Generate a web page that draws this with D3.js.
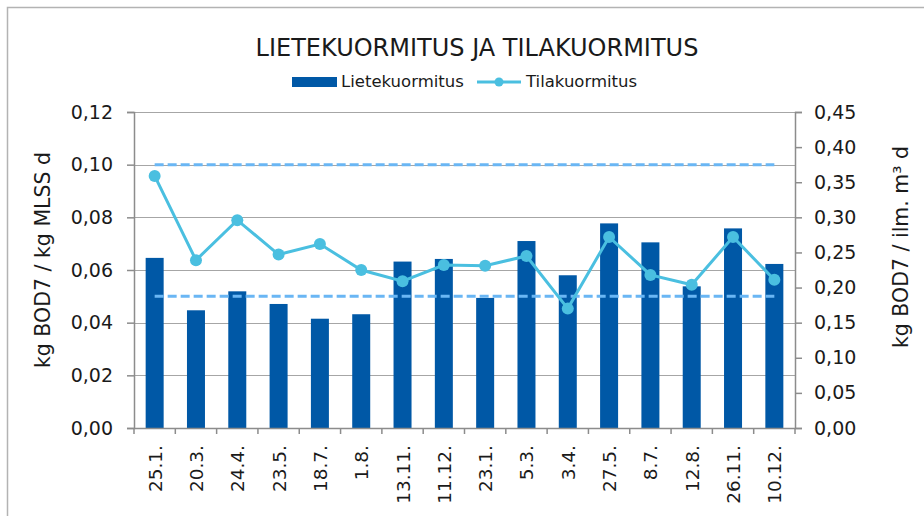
<!DOCTYPE html>
<html>
<head>
<meta charset="utf-8">
<script src="https://cdn.jsdelivr.net/npm/d3@7"></script>
<style>
  body { margin: 0; background: #fff; }
  text { font-family: "DejaVu Sans", sans-serif; fill: #1a1a1a; }
</style>
</head>
<body>
<svg id="chart"></svg>
<script>
// DATA
const dates = ["25.1.", "20.3.", "24.4.", "23.5.", "18.7.", "1.8.", "13.11.", "11.12.",
               "23.1.", "5.3.", "3.4.", "27.5.", "8.7.", "12.8.", "26.11.", "10.12."];
const lietekuormitus = [0.0646, 0.0447, 0.0519, 0.0471, 0.0415, 0.0432, 0.0632, 0.0642,
                        0.0494, 0.0710, 0.0580, 0.0777, 0.0705, 0.0538, 0.0758, 0.0623];
const tilakuormitus = [0.359, 0.239, 0.296, 0.247, 0.262, 0.225, 0.209, 0.232,
                       0.231, 0.245, 0.170, 0.272, 0.218, 0.204, 0.272, 0.211];
const rajaYla = 0.10;   // dashed upper limit, left axis
const rajaAla = 0.05;   // dashed lower limit, left axis
const leftTicks = [0, 0.02, 0.04, 0.06, 0.08, 0.10, 0.12];
const rightTicks = [0, 0.05, 0.10, 0.15, 0.20, 0.25, 0.30, 0.35, 0.40, 0.45];

const width = 924, height = 516;
const margin = { top: 112, right: 129, bottom: 88, left: 134 };

const barColor = "#0058a6";
const lineColor = "#4abfe0";
const dashColor = "#6ab6f4";
const gridColor = "#a6a6a6";

const fmt = d => d3.format(".2f")(d).replace(".", ",");

const svg = d3.select("#chart")
    .attr("width", width)
    .attr("height", height);

// frame
svg.append("rect")
    .attr("x", 7.5).attr("y", 7.5)
    .attr("width", width).attr("height", height)
    .attr("fill", "none").attr("stroke", "#b3b3b3").attr("stroke-width", 1.5);

// SCALES
const xScale = d3.scaleBand()
    .domain(dates)
    .range([margin.left, width - margin.right]);

const yLeft = d3.scaleLinear()
    .domain([0, 0.12])
    .range([height - margin.bottom, margin.top]);

const yRight = d3.scaleLinear()
    .domain([0, 0.45])
    .range([height - margin.bottom, margin.top]);

// GRIDLINES
svg.append("g")
    .selectAll("line")
    .data(leftTicks)
    .join("line")
    .attr("x1", margin.left).attr("x2", width - margin.right)
    .attr("y1", d => Math.round(yLeft(d)) + 0.5)
    .attr("y2", d => Math.round(yLeft(d)) + 0.5)
    .attr("stroke", gridColor).attr("stroke-width", 1.2);

// BARS
const barW = 18;
svg.append("g")
    .selectAll("rect")
    .data(lietekuormitus)
    .join("rect")
    .attr("x", (d, i) => xScale(dates[i]) + xScale.bandwidth() / 2 - barW / 2)
    .attr("y", d => yLeft(d))
    .attr("width", barW)
    .attr("height", d => yLeft(0) - yLeft(d))
    .attr("fill", barColor);

// DASHED LIMITS
const first = xScale(dates[0]) + xScale.bandwidth() / 2;
const last = xScale(dates[dates.length - 1]) + xScale.bandwidth() / 2;
svg.append("g")
    .selectAll("line")
    .data([rajaYla, rajaAla])
    .join("line")
    .attr("x1", first).attr("x2", last)
    .attr("y1", d => yLeft(d)).attr("y2", d => yLeft(d))
    .attr("stroke", dashColor).attr("stroke-width", 3)
    .attr("stroke-dasharray", "9,4");

// AXES
const xAxis = svg.append("g")
    .attr("transform", `translate(0, ${yLeft(0)})`)
    .call(d3.axisBottom(xScale).tickSize(0).tickFormat(""));
xAxis.select(".domain").attr("stroke", "#8c8c8c").attr("stroke-width", 1.5);
// tick marks at category boundaries
xAxis.selectAll("line.sep")
    .data(dates.concat(["end"]))
    .join("line")
    .attr("class", "sep")
    .attr("x1", (d, i) => margin.left + i * xScale.step())
    .attr("x2", (d, i) => margin.left + i * xScale.step())
    .attr("y1", 0).attr("y2", 6)
    .attr("stroke", "#8c8c8c").attr("stroke-width", 1.5);

svg.append("g")
    .selectAll("text")
    .data(dates)
    .join("text")
    .attr("transform", d => `translate(${xScale(d) + xScale.bandwidth() / 2 + 7}, ${yLeft(0) + 17}) rotate(-90)`)
    .attr("text-anchor", "end")
    .style("font-size", "18.5px")
    .text(d => d);

const leftAxis = svg.append("g")
    .attr("transform", `translate(${margin.left}, 0)`)
    .call(d3.axisLeft(yLeft).tickValues(leftTicks).tickSize(7).tickPadding(14).tickFormat(fmt));

const rightAxis = svg.append("g")
    .attr("transform", `translate(${width - margin.right}, 0)`)
    .call(d3.axisRight(yRight).tickValues(rightTicks).tickSize(7).tickPadding(12).tickFormat(fmt));

[leftAxis, rightAxis].forEach(g => {
    g.select(".domain").attr("stroke", "#8c8c8c").attr("stroke-width", 1.5);
    g.selectAll(".tick line").attr("stroke", "#8c8c8c").attr("stroke-width", 1.5);
    g.selectAll(".tick text")
        .style("font-size", "19px")
        .style("font-family", "'DejaVu Sans', sans-serif")
        .attr("fill", "#1a1a1a");
});

// LINE SERIES
const line = d3.line()
    .x((d, i) => xScale(dates[i]) + xScale.bandwidth() / 2)
    .y(d => yRight(d));

svg.append("path")
    .datum(tilakuormitus)
    .attr("d", line)
    .attr("fill", "none")
    .attr("stroke", lineColor)
    .attr("stroke-width", 3);

svg.append("g")
    .selectAll("circle")
    .data(tilakuormitus)
    .join("circle")
    .attr("cx", (d, i) => xScale(dates[i]) + xScale.bandwidth() / 2)
    .attr("cy", d => yRight(d))
    .attr("r", 6)
    .attr("fill", lineColor);

// TITLE
svg.append("text")
    .attr("x", 477).attr("y", 56)
    .attr("text-anchor", "middle")
    .style("font-size", "24px")
    .text("LIETEKUORMITUS JA TILAKUORMITUS");

// LEGEND
const legend = svg.append("g");
legend.append("rect")
    .attr("x", 292).attr("y", 77).attr("width", 45).attr("height", 10)
    .attr("fill", barColor);
legend.append("text")
    .attr("x", 341).attr("y", 87)
    .style("font-size", "16.5px")
    .text("Lietekuormitus");
legend.append("line")
    .attr("x1", 477).attr("x2", 521).attr("y1", 82).attr("y2", 82)
    .attr("stroke", lineColor).attr("stroke-width", 3);
legend.append("circle")
    .attr("cx", 499).attr("cy", 82).attr("r", 4.5)
    .attr("fill", lineColor);
legend.append("text")
    .attr("x", 526).attr("y", 87)
    .style("font-size", "16.5px")
    .text("Tilakuormitus");

// AXIS TITLES
svg.append("text")
    .attr("transform", `translate(50, 260) rotate(-90)`)
    .attr("text-anchor", "middle")
    .style("font-size", "20.5px")
    .text("kg BOD7 / kg MLSS d");

svg.append("text")
    .attr("transform", `translate(908, 247) rotate(-90)`)
    .attr("text-anchor", "middle")
    .style("font-size", "20.5px")
    .text("kg BOD7 / ilm. m³ d");
</script>
</body>
</html>
